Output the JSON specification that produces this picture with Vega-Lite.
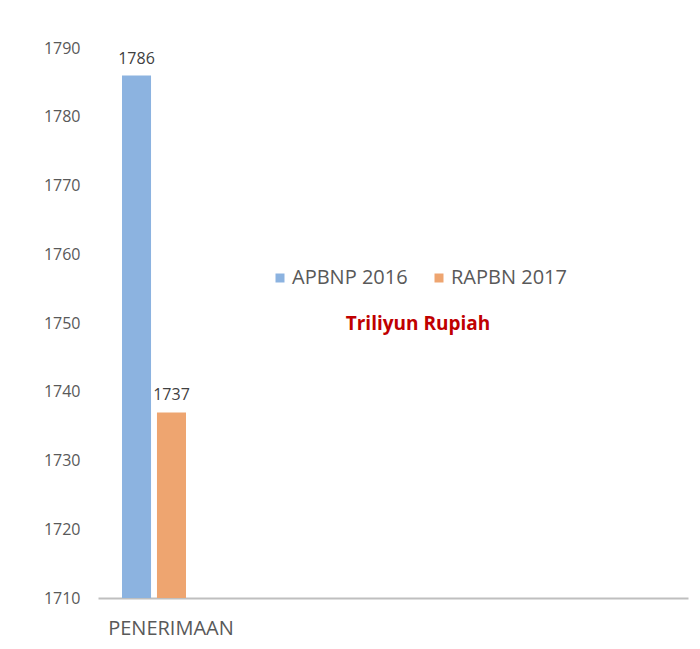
{
  "$schema": "https://vega.github.io/schema/vega-lite/v6.json",
  "width": 590,
  "height": 550,
  "autosize": {"type": "none"},
  "padding": {"left": 98, "top": 48, "right": 12, "bottom": 51},
  "background": "white",
  "config": {
    "view": {"stroke": null},
    "font": "Open Sans",
    "axis": {"grid": false, "ticks": false, "labelFont": "Open Sans", "labelColor": "#595959", "title": null}
  },
  "data": {
    "values": [
      {"kategori": "PENERIMAAN", "seri": "APBNP 2016", "nilai": 1786},
      {"kategori": "PENERIMAAN", "seri": "RAPBN 2017", "nilai": 1737}
    ]
  },
  "encoding": {
    "x": {
      "field": "kategori",
      "type": "nominal",
      "scale": {"domain": ["PENERIMAAN", " ", "  ", "   ", "    "], "paddingInner": 0.4644, "paddingOuter": 0.2008},
      "axis": {"labelAngle": 0, "labelFontSize": 20, "labelPadding": 20, "labelFlush": false, "labelBound": false, "labelOffset": 17, "domainColor": "#bfbfbf", "domainWidth": 2}
    },
    "xOffset": {
      "field": "seri",
      "type": "nominal",
      "sort": ["APBNP 2016", "RAPBN 2017"],
      "scale": {"paddingInner": 0.17, "paddingOuter": 0}
    },
    "y": {
      "field": "nilai",
      "type": "quantitative",
      "scale": {"domain": [1710, 1790], "zero": false, "nice": false},
      "axis": {"values": [1710, 1720, 1730, 1740, 1750, 1760, 1770, 1780, 1790], "format": "d", "domain": false, "labelFontSize": 16, "labelPadding": 18}
    }
  },
  "layer": [
    {
      "mark": {"type": "bar", "clip": true},
      "encoding": {
        "color": {
          "field": "seri",
          "type": "nominal",
          "scale": {"domain": ["APBNP 2016", "RAPBN 2017"], "range": ["#8cb3e0", "#eea570"]},
          "legend": {
            "title": "Triliyun Rupiah",
            "titleOrient": "bottom",
            "titleAnchor": "middle",
            "titleColor": "#c00000",
            "titleFont": "Open Sans",
            "titleFontWeight": "bold",
            "titleFontSize": 19,
            "titlePadding": 27,
            "orient": "none",
            "direction": "horizontal",
            "legendX": 172,
            "legendY": 220,
            "symbolType": "square",
            "symbolSize": 81,
            "symbolStrokeWidth": 0,
            "labelFontSize": 20,
            "labelColor": "#595959",
            "labelOffset": 2,
            "columnPadding": 21
          }
        }
      }
    },
    {
      "mark": {"type": "text", "baseline": "bottom", "dy": -9, "fontSize": 16, "color": "#404040"},
      "encoding": {"text": {"field": "nilai", "type": "quantitative"}}
    }
  ]
}
